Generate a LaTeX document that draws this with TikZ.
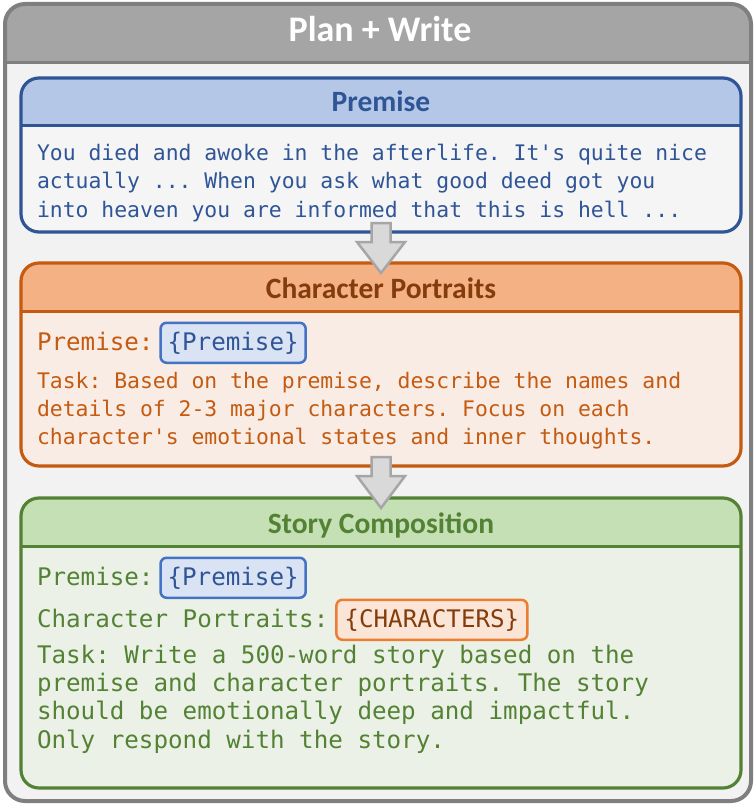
\documentclass[tikz,border=0pt]{standalone}
\usepackage{fontspec}
\setsansfont{Carlito}
\setmonofont{DejaVu Sans Mono}
\usetikzlibrary{positioning,calc}

\definecolor{frameLine}{HTML}{7F7F7F}
\definecolor{frameHead}{HTML}{A5A5A5}
\definecolor{frameBody}{HTML}{F2F2F2}
\definecolor{premLine}{HTML}{2F5597}
\definecolor{premHead}{HTML}{B4C7E7}
\definecolor{premBody}{HTML}{F5F5F5}
\definecolor{premText}{HTML}{2F5597}
\definecolor{portLine}{HTML}{C55A11}
\definecolor{portHead}{HTML}{F4B183}
\definecolor{portBody}{HTML}{F8ECE4}
\definecolor{portText}{HTML}{C55A11}
\definecolor{portTitle}{HTML}{843C0C}
\definecolor{storyLine}{HTML}{548235}
\definecolor{storyHead}{HTML}{C5E0B4}
\definecolor{storyBody}{HTML}{EBF1E6}
\definecolor{storyText}{HTML}{548235}
\definecolor{slotBlueLine}{HTML}{4472C4}
\definecolor{slotBlueFill}{HTML}{DAE3F3}
\definecolor{slotOrangeLine}{HTML}{ED7D31}
\definecolor{slotOrangeFill}{HTML}{FBE5D6}
\definecolor{arrowFill}{HTML}{D9D9D9}
\definecolor{arrowLine}{HTML}{A6A6A6}

\begin{document}
\begin{tikzpicture}[x=1pt,y=-1pt,
	panel/.style={minimum width=720pt,inner sep=0pt,outer sep=0pt,fill=#1,rounded corners=18pt},
	headtitle/.style={font=\fontsize{29.5}{34}\selectfont\sffamily\bfseries,text=#1,anchor=base},
	bigmono/.style={font=\fontsize{24.2}{28.3}\selectfont\ttfamily,text=#1,inner sep=0pt,outer sep=0pt,align=left},
	smallmono/.style={font=\fontsize{21.4}{28.3}\selectfont\ttfamily,text=#1,inner sep=0pt,outer sep=0pt,align=left},
	slot/.style 2 args={draw=#1,fill=#2,line width=2.5pt,rounded corners=6pt,inner xsep=7pt,minimum height=40pt},
	blockarrow/.style={draw=arrowLine,fill=arrowFill,line width=2.5pt,line join=miter}]
	
	\useasboundingbox (0,0) rectangle (755,805);
	
	% Draw the outer frame
	\node[panel=frameBody,minimum width=746pt,minimum height=797pt,rounded corners=20pt] (plan) at (378,402.5) {};
	\begin{scope}
		\clip[rounded corners=20pt] (plan.south west) rectangle (plan.north east);
		\fill[frameHead] (plan.north west) rectangle ($(plan.north east)+(0,59)$);
	\end{scope}
	\draw[frameLine,line width=3pt] ($(plan.north west)+(0,59)$) -- ($(plan.north east)+(0,59)$);
	\draw[frameLine,line width=4pt,rounded corners=20pt] (plan.south west) rectangle (plan.north east);
	\node[font=\fontsize{36}{42}\selectfont\sffamily\bfseries,text=white,anchor=base] (title) at (380,42) {Plan + Write};
	
	% Draw panels, each with a coloured header
	\node[panel=premBody,minimum height=154pt] (premise) at (381,155) {};
	\node[panel=portBody,minimum height=203pt] (portraits) at (381,364.5) {};
	\node[panel=storyBody,minimum height=290pt] (story) at (381,643) {};
	\foreach \p/\c in {premise/prem,portraits/port,story/story}{
		\begin{scope}
			\clip[rounded corners=18pt] (\p.south west) rectangle (\p.north east);
			\fill[fill=\c Head] (\p.north west) rectangle ($(\p.north east)+(0,48)$);
		\end{scope}
		\draw[draw=\c Line,line width=3pt] ($(\p.north west)+(0,48)$) -- ($(\p.north east)+(0,48)$);
		\draw[draw=\c Line,line width=3.2pt,rounded corners=18pt] (\p.south west) rectangle (\p.north east);
	}
	\node[headtitle=premText] (premisetitle) at (381,112) {Premise};
	\node[headtitle=portTitle] (portraitstitle) at (381,298) {Character Portraits};
	\node[headtitle=storyText] (storytitle) at (381,533) {Story Composition};
	
	% Premise text
	\node[smallmono=premText,anchor=west] (premisetext) at (37,183) {You died and awoke in the afterlife. It's quite nice\\actually ... When you ask what good deed got you\\into heaven you are informed that this is hell ...};
	
	% Character portraits prompt
	\node[bigmono=portText,anchor=base west] (portpremise) at (37,350) {Premise:};
	\node[bigmono=premText,slot={slotBlueLine}{slotBlueFill},base right=7pt of portpremise] (portslot) {\{Premise\}};
	\node[smallmono=portText,anchor=west] (porttask) at (37,410.5) {Task: Based on the premise, describe the names and\\details of 2-3 major characters. Focus on each\\character's emotional states and inner thoughts.};
	
	% Story composition prompt
	\node[bigmono=storyText,anchor=base west] (storypremise) at (37,585) {Premise:};
	\node[bigmono=premText,slot={slotBlueLine}{slotBlueFill},base right=7pt of storypremise] (storyslot) {\{Premise\}};
	\node[bigmono=storyText,anchor=base west] (storyportraits) at (37,627) {Character Portraits:};
	\node[bigmono=portTitle,slot={slotOrangeLine}{slotOrangeFill},base right=8pt of storyportraits,minimum width=191pt] (charslot) {\{CHARACTERS\}};
	\node[bigmono=storyText,anchor=west] (storytask) at (37,699) {Task: Write a 500-word story based on the\\premise and character portraits. The story\\should be emotionally deep and impactful.\\Only respond with the story.};
	
	% Draw block arrows between panels
	\foreach \a/\b in {premise/portraits,portraits/story}{
		\draw[blockarrow] ($(\a.south)+(-9.5,-9)$) -- ++(19,0) -- ($(\a.south)+(9.5,10)$) -- ++(14.5,0) -- ($(\b.north)+(0,10)$) -- ($(\a.south)+(-24,10)$) -- ++(14.5,0) -- cycle;
	}
	
\end{tikzpicture}
\end{document}
